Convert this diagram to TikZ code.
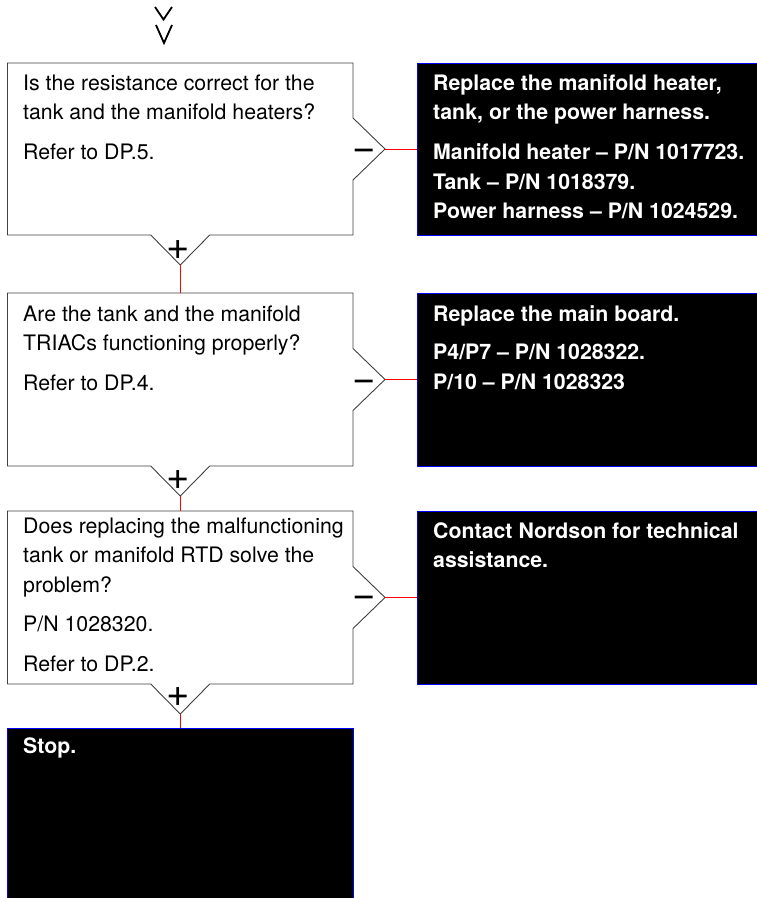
\documentclass[tikz,border=0pt]{standalone}
\usepackage{fontspec}
\setmainfont{TeX Gyre Heros}
\tikzset{
  qline/.style={draw=black!75, line width=0.9pt, line join=miter},
  area/.style={rectangle, inner sep=0pt, outer sep=0pt},
  ansbox/.style={fill=black, draw=blue, line width=0.9pt},
  conn/.style={draw=red, line width=1pt},
  qtext/.style={anchor=north west, inner sep=0pt, align=left, font=\fontsize{21.3}{29.5}\selectfont},
  atext/.style={anchor=north west, inner sep=0pt, align=left, text=white, font=\fontsize{21.3}{29.5}\selectfont\bfseries},
  sign/.style={inner sep=0pt, font=\fontsize{40}{40}\selectfont},
  chev/.style={draw=black, line width=1.8pt}
}
\newcommand\qoutline[1]{%
  \draw[qline, fill=white] (#1.north west) -- (#1.north east) -- ([yshift=31pt]#1.east) -- ([xshift=32pt]#1.east) -- ([yshift=-31pt]#1.east) -- (#1.south east) -- ([xshift=29.5pt]#1.south) -- ([yshift=-30pt]#1.south) -- ([xshift=-29.5pt]#1.south) -- (#1.south west) -- cycle;
  \coordinate (#1R) at ([xshift=32pt]#1.east);
  \coordinate (#1B) at ([yshift=-30pt]#1.south);
}
\newcommand\fs{\rule{0pt}{16pt}}
\newcommand\mns{\vphantom{+}−}
\begin{document}
\begin{tikzpicture}[x=1pt,y=-1pt]
\useasboundingbox (0,0) rectangle (757,898);

% top chevrons
\coordinate (v1a) at (155,7); \coordinate (v1b) at (163.5,19.5); \coordinate (v1c) at (172,7);
\coordinate (v2a) at (156,25); \coordinate (v2b) at (164,43); \coordinate (v2c) at (172,25);
\draw[chev] (v1a) -- (v1b) -- (v1c);
\draw[chev] (v2a) -- (v2b) -- (v2c);

% question boxes
\node[area, minimum width=345.5pt, minimum height=172pt, anchor=north west] (q1) at (7.5,63) {};
\node[area, minimum width=345.5pt, minimum height=173pt, anchor=north west] (q2) at (7.5,293) {};
\node[area, minimum width=345.5pt, minimum height=173pt, anchor=north west] (q3) at (7.5,511) {};
\qoutline{q1}
\qoutline{q2}
\qoutline{q3}

% answer boxes
\node[area, ansbox, minimum width=342pt, minimum height=172pt, anchor=north west] (a1) at (417,63) {};
\node[area, ansbox, minimum width=342pt, minimum height=173pt, anchor=north west] (a2) at (417,293) {};
\node[area, ansbox, minimum width=342pt, minimum height=173pt, anchor=north west] (a3) at (417,511) {};
\node[area, ansbox, minimum width=345.5pt, minimum height=172pt, anchor=north west] (stop) at (7.5,728) {};

% connectors
\draw[conn] (q1B) -- (q2.north);
\draw[conn] (q2B) -- (q3.north);
\draw[conn] (q3B) -- (stop.north);
\draw[conn] (q1R) -- (a1.west);
\draw[conn] (q2R) -- (a2.west);
\draw[conn] (q3R) -- (a3.west);

% signs
\node[sign] (p1) at ([xshift=-2.5pt,yshift=-15pt]q1.south) {+};
\node[sign] (p2) at ([xshift=-2.5pt,yshift=-14pt]q2.south) {+};
\node[sign] (p3) at ([xshift=-2.5pt,yshift=-13pt]q3.south) {+};
\node[sign] (m1) at ([xshift=11pt,yshift=-2pt]q1.east) {\mns};
\node[sign] (m2) at ([xshift=11pt,yshift=-2.5pt]q2.east) {\mns};
\node[sign] (m3) at ([xshift=11pt,yshift=-0.5pt]q3.east) {\mns};

% texts
\node[qtext] (t1) at (23,74) {\fs Is the resistance correct for the\\ tank and the manifold heaters?\\[10.5pt] Refer to DP.5.};
\node[qtext] (t2) at (23,305) {\fs Are the tank and the manifold\\ TRIACs functioning properly?\\[10.5pt] Refer to DP.4.};
\node[qtext] (t3) at (23,517) {\fs Does replacing the malfunctioning\\ tank or manifold RTD solve the\\ problem?\\[10pt] P/N 1028320.\\[10pt] Refer to DP.2.};

\node[atext] (s1) at (433,74) {\fs Replace the manifold heater,\\ tank, or the power harness.\\[10.5pt] Manifold heater – P/N 1017723.\\ Tank – P/N 1018379.\\ Power harness – P/N 1024529.};
\node[atext] (s2) at (433,305) {\fs Replace the main board.\\[9pt] P4/P7 – P/N 1028322.\\ P/10 – P/N 1028323};
\node[atext] (s3) at (433,522) {\fs Contact Nordson for technical\\ assistance.};
\node[atext] (s4) at (23,737) {\fs Stop.};
\end{tikzpicture}
\end{document}
